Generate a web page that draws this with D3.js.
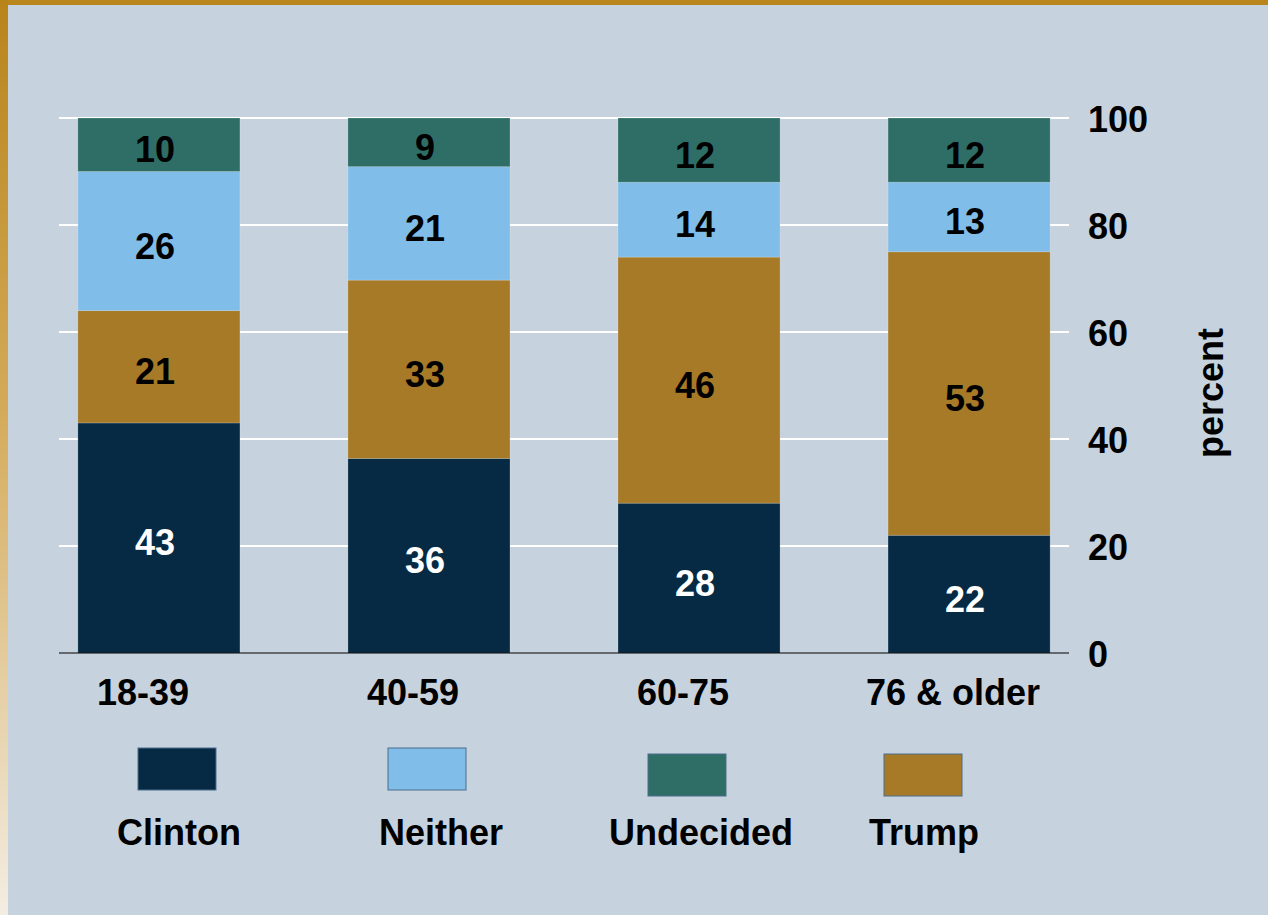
<!DOCTYPE html>
<html>
<head>
<meta charset="utf-8">
<script src="https://cdn.jsdelivr.net/npm/d3@7"></script>
<style>
  html, body { margin: 0; padding: 0; background: #c6d2de; }
  svg { display: block; font-family: "Liberation Sans", Arial, sans-serif; font-weight: bold; }
</style>
</head>
<body>
<div id="chart"></div>
<script>
// ── Data ─────────────────────────────────────────────────────────
const ageGroups = ['18-39', '40-59', '60-75', '76 & older'];
const clinton   = [43, 36, 28, 22];
const trump     = [21, 33, 46, 53];
const neither   = [26, 21, 14, 13];
const undecided = [10, 9, 12, 12];
const yTicks    = [0, 20, 40, 60, 80, 100];

const stackKeys  = ['Clinton', 'Trump', 'Neither', 'Undecided'];
const legendKeys = ['Clinton', 'Neither', 'Undecided', 'Trump'];

const COLORS = {
  Clinton: '#062a43',
  Trump: '#a67a27',
  Neither: '#80bde9',
  Undecided: '#2e6e67'
};
const LABEL_COLORS = { Clinton: '#ffffff', Trump: '#000000', Neither: '#000000', Undecided: '#000000' };

const rows = ageGroups.map((g, i) => ({
  group: g,
  Clinton: clinton[i],
  Trump: trump[i],
  Neither: neither[i],
  Undecided: undecided[i]
}));

// ── Layout ───────────────────────────────────────────────────────
const W = 1268, H = 915;
const plot = { left: 59, right: 1069, top: 118, bottom: 653 };
// legend slots (swatch centre, label centre, swatch top) – hand placed like the original slide
const LEGEND_LAYOUT = {
  Clinton:   { sx: 177, tx: 179, sy: 748 },
  Neither:   { sx: 427, tx: 441, sy: 748 },
  Undecided: { sx: 687, tx: 701, sy: 754 },
  Trump:     { sx: 923, tx: 924, sy: 754 }
};

const svg = d3.select('#chart').append('svg')
  .attr('width', W)
  .attr('height', H);

// Frame: background + gold border
const defs = svg.append('defs');
const grad = defs.append('linearGradient')
  .attr('id', 'goldFade')
  .attr('x1', 0).attr('y1', 0).attr('x2', 0).attr('y2', 1);
grad.append('stop').attr('offset', '0%').attr('stop-color', '#b8841a');
grad.append('stop').attr('offset', '45%').attr('stop-color', '#d4ab5a');
grad.append('stop').attr('offset', '100%').attr('stop-color', '#f3ede2');

svg.append('rect').attr('width', W).attr('height', H).attr('fill', '#c6d2de');
svg.append('rect').attr('x', 0).attr('y', 0).attr('width', W).attr('height', 5).attr('fill', '#b8861b');
svg.append('rect').attr('x', 0).attr('y', 0).attr('width', 8).attr('height', H).attr('fill', 'url(#goldFade)');

// ── Scales ───────────────────────────────────────────────────────
const x = d3.scaleBand()
  .domain(ageGroups)
  .range([plot.left, plot.right])
  .paddingInner(0.4)
  .paddingOuter(0.07);

const y = d3.scaleLinear()
  .domain([0, 100])
  .range([plot.bottom, plot.top]);

const series = d3.stack()
  .keys(stackKeys)
  .offset(d3.stackOffsetExpand)(rows);

// ── Gridlines ────────────────────────────────────────────────────
svg.append('g')
  .selectAll('line')
  .data(yTicks.filter(t => t > 0))
  .join('line')
  .attr('x1', plot.left)
  .attr('x2', plot.right)
  .attr('y1', d => y(d))
  .attr('y2', d => y(d))
  .attr('stroke', '#ffffff')
  .attr('stroke-width', 2);

// ── Bars ─────────────────────────────────────────────────────────
const layers = svg.append('g')
  .selectAll('g')
  .data(series)
  .join('g')
  .attr('fill', d => COLORS[d.key]);

layers.selectAll('rect')
  .data(d => d)
  .join('rect')
  .attr('x', d => x(d.data.group))
  .attr('y', d => y(d[1] * 100))
  .attr('width', x.bandwidth())
  .attr('height', d => y(d[0] * 100) - y(d[1] * 100))
  .attr('stroke', 'rgba(255,255,255,0.18)')
  .attr('stroke-width', 1);

// Value labels
layers.each(function(s) {
  d3.select(this).selectAll('text')
    .data(s)
    .join('text')
    .attr('x', d => x(d.data.group) + x.bandwidth() / 2 - 4)
    .attr('y', d => y((d[0] + d[1]) / 2 * 100) + 5)
    .attr('text-anchor', 'middle')
    .attr('dominant-baseline', 'central')
    .attr('font-size', 36)
    .attr('fill', LABEL_COLORS[s.key])
    .text(d => d.data[s.key]);
});

// Baseline
svg.append('line')
  .attr('x1', plot.left)
  .attr('x2', plot.right)
  .attr('y1', y(0))
  .attr('y2', y(0))
  .attr('stroke', '#000000')
  .attr('stroke-width', 1);

// ── Y axis (right) ───────────────────────────────────────────────
svg.append('g')
  .selectAll('text')
  .data(yTicks)
  .join('text')
  .attr('x', 1088)
  .attr('y', d => y(d) + 1)
  .attr('dominant-baseline', 'central')
  .attr('font-size', 36)
  .attr('fill', '#000')
  .text(d => d);

svg.append('text')
  .attr('transform', 'translate(1210,393) rotate(-90)')
  .attr('text-anchor', 'middle')
  .attr('dominant-baseline', 'central')
  .attr('font-size', 36)
  .attr('fill', '#000')
  .text('percent');

// ── X axis labels ────────────────────────────────────────────────
svg.append('g')
  .selectAll('text')
  .data(ageGroups)
  .join('text')
  .attr('x', d => x(d) + x.bandwidth() / 2 - 16)
  .attr('y', 705)
  .attr('text-anchor', 'middle')
  .attr('font-size', 36)
  .attr('fill', '#000')
  .text(d => d);

// ── Legend ───────────────────────────────────────────────────────
const legend = svg.append('g')
  .selectAll('g')
  .data(legendKeys)
  .join('g');

legend.append('rect')
  .attr('x', d => LEGEND_LAYOUT[d].sx - 39)
  .attr('y', d => LEGEND_LAYOUT[d].sy)
  .attr('width', 78)
  .attr('height', 42)
  .attr('fill', d => COLORS[d])
  .attr('stroke', '#4a6d8c')
  .attr('stroke-width', 1);

legend.append('text')
  .attr('x', d => LEGEND_LAYOUT[d].tx)
  .attr('y', 845)
  .attr('text-anchor', 'middle')
  .attr('font-size', 36)
  .attr('fill', '#000')
  .text(d => d);
</script>
</body>
</html>
